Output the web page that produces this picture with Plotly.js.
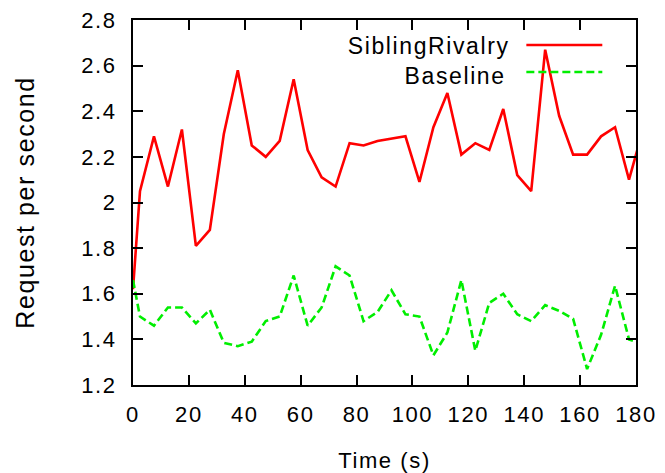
<!DOCTYPE html>
<html>
<head>
<meta charset="utf-8">
<script src="https://cdn.plot.ly/plotly-3.0.1.min.js"></script>
<style>
html,body{margin:0;padding:0;background:#fff;}
#chart{width:665px;height:473px;}
#chart text{letter-spacing:1.6px;}
</style>
</head>
<body>
<div id="chart"></div>
<script>
var time = [0, 2.5, 7.5, 12.5, 17.5, 22.5, 27.5, 32.5, 37.5, 42.5, 47.5, 52.5, 57.5, 62.5, 67.5, 72.5, 77.5, 82.5, 87.5, 92.5, 97.5, 102.5, 107.5, 112.5, 117.5, 122.5, 127.5, 132.5, 137.5, 142.5, 147.5, 152.5, 157.5, 162.5, 167.5, 172.5, 177.5, 182.5];
var siblingRivalry = [1.62, 2.05, 2.29, 2.07, 2.32, 1.81, 1.88, 2.30, 2.58, 2.25, 2.20, 2.27, 2.54, 2.23, 2.11, 2.07, 2.26, 2.25, 2.27, 2.28, 2.29, 2.09, 2.33, 2.48, 2.21, 2.26, 2.23, 2.41, 2.12, 2.05, 2.67, 2.38, 2.21, 2.21, 2.29, 2.33, 2.10, 2.32];
var baseline = [1.66, 1.50, 1.46, 1.54, 1.54, 1.47, 1.53, 1.385, 1.37, 1.39, 1.48, 1.50, 1.68, 1.46, 1.54, 1.72, 1.68, 1.48, 1.52, 1.615, 1.51, 1.50, 1.33, 1.43, 1.66, 1.35, 1.56, 1.60, 1.51, 1.48, 1.55, 1.525, 1.49, 1.27, 1.42, 1.635, 1.40, 1.38];
var seriesNames = ["SiblingRivalry", "Baseline"];
var xTicks = [0, 20, 40, 60, 80, 100, 120, 140, 160, 180];
var yTicks = [1.2, 1.4, 1.6, 1.8, 2.0, 2.2, 2.4, 2.6, 2.8];
var yTickText = ["1.2", "1.4", "1.6", "1.8", "2", "2.2", "2.4", "2.6", "2.8"];

var font = "Liberation Sans, Arial, Helvetica, sans-serif";
var traces = [
  {x: time, y: siblingRivalry, name: seriesNames[0], mode: "lines", line: {color: "#ff0000", width: 2.6}},
  {x: time, y: baseline, name: seriesNames[1], mode: "lines", line: {color: "#00ee00", width: 2.6, dash: "8px,4px"}}
];
var layout = {
  width: 665, height: 473,
  margin: {l: 133, r: 29, t: 20, b: 88},
  paper_bgcolor: "#fff", plot_bgcolor: "#fff",
  showlegend: false,
  font: {family: font, size: 22, color: "#000"},
  xaxis: {
    range: [0, 180], tickvals: xTicks, ticktext: xTicks.map(String),
    showgrid: false, zeroline: false, showline: true, linecolor: "#000", linewidth: 2,
    mirror: "ticks", ticks: "inside", ticklen: 10, tickwidth: 2, tickcolor: "#000",
    ticklabelstandoff: 9, tickfont: {size: 22},
    title: {text: "Time (s)", font: {size: 22}, standoff: 26}
  },
  yaxis: {
    range: [1.2, 2.8], tickvals: yTicks, ticktext: yTickText,
    showgrid: false, zeroline: false, showline: true, linecolor: "#000", linewidth: 2,
    mirror: "ticks", ticks: "inside", ticklen: 10, tickwidth: 2, tickcolor: "#000",
    ticklabelstandoff: 10, tickfont: {size: 22},
    title: {text: "Request per second", font: {size: 25}, standoff: 44}
  },
  annotations: [
    {xref: "paper", yref: "paper", x: 0.731, y: 0.928, xanchor: "right", yanchor: "middle", text: seriesNames[0], showarrow: false, font: {size: 23}},
    {xref: "paper", yref: "paper", x: 0.731, y: 0.847, xanchor: "right", yanchor: "middle", text: seriesNames[1], showarrow: false, font: {size: 23}}
  ],
  shapes: [
    {type: "line", xref: "paper", yref: "paper", x0: 0.782, x1: 0.933, y0: 0.9315, y1: 0.9315, line: {color: "#ff0000", width: 2.6}},
    {type: "line", xref: "paper", yref: "paper", x0: 0.782, x1: 0.933, y0: 0.8575, y1: 0.8575, line: {color: "#00ee00", width: 2.6, dash: "8px,4px"}}
  ]
};
Plotly.newPlot("chart", traces, layout, {displayModeBar: false, staticPlot: true});
</script>
</body>
</html>
